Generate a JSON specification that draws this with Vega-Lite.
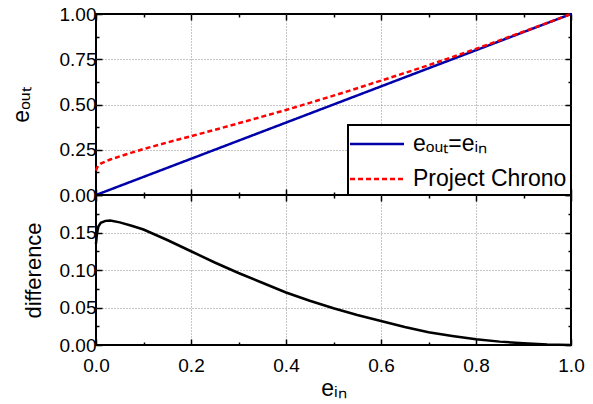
{
  "$schema": "https://vega.github.io/schema/vega-lite/v6.json",
  "background": "white",
  "padding": {"left": 9, "top": 4, "right": 22, "bottom": 5},
  "spacing": 0,
  "bounds": "flush",
  "resolve": {
    "scale": {"color": "independent", "strokeDash": "independent"},
    "legend": {"color": "independent", "strokeDash": "independent"}
  },
  "datasets": {
    "identity": [
      {"series": "eₒᵤₜ=eᵢₙ", "e_in": 0, "e_out": 0},
      {"series": "eₒᵤₜ=eᵢₙ", "e_in": 1, "e_out": 1}
    ],
    "chrono": [
      {"series": "Project Chrono", "e_in": 0, "e_out": 0.135, "diff": 0.135},
      {"series": "Project Chrono", "e_in": 0.002, "e_out": 0.15, "diff": 0.148},
      {"series": "Project Chrono", "e_in": 0.005, "e_out": 0.163, "diff": 0.158},
      {"series": "Project Chrono", "e_in": 0.01, "e_out": 0.173, "diff": 0.163},
      {"series": "Project Chrono", "e_in": 0.02, "e_out": 0.1855, "diff": 0.1655},
      {"series": "Project Chrono", "e_in": 0.03, "e_out": 0.196, "diff": 0.166},
      {"series": "Project Chrono", "e_in": 0.05, "e_out": 0.2135, "diff": 0.1635},
      {"series": "Project Chrono", "e_in": 0.075, "e_out": 0.234, "diff": 0.159},
      {"series": "Project Chrono", "e_in": 0.1, "e_out": 0.254, "diff": 0.154},
      {"series": "Project Chrono", "e_in": 0.15, "e_out": 0.29, "diff": 0.14},
      {"series": "Project Chrono", "e_in": 0.2, "e_out": 0.325, "diff": 0.125},
      {"series": "Project Chrono", "e_in": 0.25, "e_out": 0.36, "diff": 0.11},
      {"series": "Project Chrono", "e_in": 0.3, "e_out": 0.396, "diff": 0.096},
      {"series": "Project Chrono", "e_in": 0.35, "e_out": 0.433, "diff": 0.083},
      {"series": "Project Chrono", "e_in": 0.4, "e_out": 0.47, "diff": 0.07},
      {"series": "Project Chrono", "e_in": 0.45, "e_out": 0.509, "diff": 0.059},
      {"series": "Project Chrono", "e_in": 0.5, "e_out": 0.549, "diff": 0.049},
      {"series": "Project Chrono", "e_in": 0.55, "e_out": 0.59, "diff": 0.04},
      {"series": "Project Chrono", "e_in": 0.6, "e_out": 0.632, "diff": 0.032},
      {"series": "Project Chrono", "e_in": 0.65, "e_out": 0.674, "diff": 0.024},
      {"series": "Project Chrono", "e_in": 0.7, "e_out": 0.717, "diff": 0.017},
      {"series": "Project Chrono", "e_in": 0.75, "e_out": 0.762, "diff": 0.012},
      {"series": "Project Chrono", "e_in": 0.8, "e_out": 0.8076, "diff": 0.0076},
      {"series": "Project Chrono", "e_in": 0.85, "e_out": 0.8545, "diff": 0.0045},
      {"series": "Project Chrono", "e_in": 0.9, "e_out": 0.9023, "diff": 0.0023},
      {"series": "Project Chrono", "e_in": 0.95, "e_out": 0.9507, "diff": 0.0007},
      {"series": "Project Chrono", "e_in": 1, "e_out": 1, "diff": 0}
    ]
  },
  "vconcat": [
    {
      "width": 475,
      "height": 181,
      "layer": [
        {
          "data": {"name": "identity"},
          "mark": {"type": "line", "strokeWidth": 2.5},
          "encoding": {
            "x": {
              "field": "e_in", "type": "quantitative",
              "scale": {"domain": [0, 1], "nice": false, "zero": false},
              "axis": {
                "orient": "bottom", "title": null, "labels": false, "domain": false,
                "values": [0, 0.1, 0.2, 0.3, 0.4, 0.5, 0.6, 0.7, 0.8, 0.9, 1],
                "grid": true, "gridColor": "#8c8c8c", "gridDash": [1, 2], "gridWidth": 1,
                "gridOpacity": {"condition": {"test": "abs(datum.value*5-round(datum.value*5))<0.01 && datum.value>0.01 && datum.value<0.99", "value": 1}, "value": 0},
                "tickColor": "black", "tickWidth": 1.5,
                "tickSize": {"condition": {"test": "abs(datum.value*5-round(datum.value*5))<0.01", "value": -6}, "value": -3}
              }
            },
            "y": {
              "field": "e_out", "type": "quantitative",
              "scale": {"domain": [0, 1], "nice": false, "zero": false},
              "axis": {
                "orient": "left", "title": "eₒᵤₜ", "domain": false,
                "values": [0, 0.125, 0.25, 0.375, 0.5, 0.625, 0.75, 0.875, 1],
                "labelExpr": "abs(datum.value*4-round(datum.value*4))<0.01 ? format(datum.value,'.2f') : ''",
                "labelFontSize": 19, "labelPadding": 6, "labelFlush": false, "labelOverlap": false,
                "titleFontSize": 23, "titleBaseline": "alphabetic", "titleX": -68,
                "grid": true, "gridColor": "#8c8c8c", "gridDash": [1, 2], "gridWidth": 1,
                "gridOpacity": {"condition": {"test": "abs(datum.value*4-round(datum.value*4))<0.01 && datum.value>0.01 && datum.value<0.99", "value": 1}, "value": 0},
                "tickColor": "black", "tickWidth": 1.5,
                "tickSize": {"condition": {"test": "abs(datum.value*4-round(datum.value*4))<0.01", "value": -6}, "value": -3}
              }
            },
            "color": {
              "field": "series", "type": "nominal",
              "scale": {"domain": ["eₒᵤₜ=eᵢₙ", "Project Chrono"], "range": ["#0000aa", "#ff0000"]},
              "legend": {
                "title": null, "orient": "bottom-right", "offset": 0, "padding": 4,
                "fillColor": "white", "strokeColor": "black",
                "labelFontSize": 23, "labelColor": "black", "labelLimit": 400,
                "symbolType": "M-2,0H2", "symbolSize": 729, "symbolStrokeWidth": 2.5,
                "symbolOffset": 10, "labelOffset": 21, "rowPadding": 8
              }
            },
            "strokeDash": {
              "field": "series", "type": "nominal",
              "scale": {"domain": ["eₒᵤₜ=eᵢₙ", "Project Chrono"], "range": [[1, 0], [5, 3]]},
              "legend": {
                "title": null, "orient": "bottom-right", "offset": 0, "padding": 4,
                "fillColor": "white", "strokeColor": "black",
                "labelFontSize": 23, "labelColor": "black", "labelLimit": 400,
                "symbolType": "M-2,0H2", "symbolSize": 729, "symbolStrokeWidth": 2.5,
                "symbolOffset": 10, "labelOffset": 21, "rowPadding": 8
              }
            }
          }
        },
        {
          "data": {"name": "chrono"},
          "mark": {"type": "line", "strokeWidth": 2.5},
          "encoding": {
            "x": {
              "field": "e_in", "type": "quantitative",
              "scale": {"domain": [0, 1], "nice": false, "zero": false},
              "axis": {
                "orient": "top", "title": null, "labels": false, "domain": false, "grid": false,
                "values": [0, 0.1, 0.2, 0.3, 0.4, 0.5, 0.6, 0.7, 0.8, 0.9, 1],
                "tickColor": "black", "tickWidth": 1.5,
                "tickSize": {"condition": {"test": "abs(datum.value*5-round(datum.value*5))<0.01", "value": -6}, "value": -3}
              }
            },
            "y": {
              "field": "e_out", "type": "quantitative",
              "scale": {"domain": [0, 1], "nice": false, "zero": false},
              "axis": {
                "orient": "right", "title": null, "labels": false, "domain": false, "grid": false,
                "values": [0, 0.125, 0.25, 0.375, 0.5, 0.625, 0.75, 0.875, 1],
                "tickColor": "black", "tickWidth": 1.5,
                "tickSize": {"condition": {"test": "abs(datum.value*4-round(datum.value*4))<0.01", "value": -6}, "value": -3}
              }
            },
            "color": {
              "field": "series", "type": "nominal",
              "scale": {"domain": ["eₒᵤₜ=eᵢₙ", "Project Chrono"], "range": ["#0000aa", "#ff0000"]},
              "legend": {
                "title": null, "orient": "bottom-right", "offset": 0, "padding": 4,
                "fillColor": "white", "strokeColor": "black",
                "labelFontSize": 23, "labelColor": "black", "labelLimit": 400,
                "symbolType": "M-2,0H2", "symbolSize": 729, "symbolStrokeWidth": 2.5,
                "symbolOffset": 10, "labelOffset": 21, "rowPadding": 8
              }
            },
            "strokeDash": {
              "field": "series", "type": "nominal",
              "scale": {"domain": ["eₒᵤₜ=eᵢₙ", "Project Chrono"], "range": [[1, 0], [5, 3]]},
              "legend": {
                "title": null, "orient": "bottom-right", "offset": 0, "padding": 4,
                "fillColor": "white", "strokeColor": "black",
                "labelFontSize": 23, "labelColor": "black", "labelLimit": 400,
                "symbolType": "M-2,0H2", "symbolSize": 729, "symbolStrokeWidth": 2.5,
                "symbolOffset": 10, "labelOffset": 21, "rowPadding": 8
              }
            }
          }
        }
      ],
      "resolve": {"axis": {"x": "independent", "y": "independent"}}
    },
    {
      "width": 475,
      "height": 150,
      "data": {"name": "chrono"},
      "layer": [
        {
          "mark": {"type": "line", "strokeWidth": 2.5, "color": "black"},
          "encoding": {
            "x": {
              "field": "e_in", "type": "quantitative",
              "scale": {"domain": [0, 1], "nice": false, "zero": false},
              "axis": {
                "orient": "bottom", "title": "eᵢₙ", "domain": false,
                "values": [0, 0.1, 0.2, 0.3, 0.4, 0.5, 0.6, 0.7, 0.8, 0.9, 1],
                "labelExpr": "abs(datum.value*5-round(datum.value*5))<0.01 ? format(datum.value,'.1f') : ''",
                "labelFontSize": 19, "labelPadding": 17, "labelFlush": false, "labelOverlap": false,
                "titleFontSize": 23, "titleBaseline": "alphabetic", "titleY": 50,
                "grid": true, "gridColor": "#8c8c8c", "gridDash": [1, 2], "gridWidth": 1,
                "gridOpacity": {"condition": {"test": "abs(datum.value*5-round(datum.value*5))<0.01 && datum.value>0.01 && datum.value<0.99", "value": 1}, "value": 0},
                "tickColor": "black", "tickWidth": 1.5,
                "tickSize": {"condition": {"test": "abs(datum.value*5-round(datum.value*5))<0.01", "value": -6}, "value": -3}
              }
            },
            "y": {
              "field": "diff", "type": "quantitative",
              "scale": {"domain": [0, 0.2], "nice": false, "zero": false},
              "axis": {
                "orient": "left", "title": "difference", "domain": false,
                "values": [0, 0.025, 0.05, 0.075, 0.1, 0.125, 0.15, 0.175, 0.2],
                "labelExpr": "(abs(datum.value*20-round(datum.value*20))<0.01 && datum.value<0.19) ? format(datum.value,'.2f') : ''",
                "labelFontSize": 19, "labelPadding": 6, "labelFlush": false, "labelOverlap": false,
                "titleFontSize": 22, "titleBaseline": "alphabetic", "titleX": -56,
                "grid": true, "gridColor": "#8c8c8c", "gridDash": [1, 2], "gridWidth": 1,
                "gridOpacity": {"condition": {"test": "abs(datum.value*20-round(datum.value*20))<0.01 && datum.value>0.01 && datum.value<0.19", "value": 1}, "value": 0},
                "tickColor": "black", "tickWidth": 1.5,
                "tickSize": {"condition": {"test": "abs(datum.value*20-round(datum.value*20))<0.01", "value": -6}, "value": -3}
              }
            }
          }
        },
        {
          "mark": {"type": "line", "strokeWidth": 2.5, "color": "black", "opacity": 0},
          "encoding": {
            "x": {
              "field": "e_in", "type": "quantitative",
              "scale": {"domain": [0, 1], "nice": false, "zero": false},
              "axis": {
                "orient": "top", "title": null, "labels": false, "domain": false, "grid": false,
                "values": [0, 0.1, 0.2, 0.3, 0.4, 0.5, 0.6, 0.7, 0.8, 0.9, 1],
                "tickColor": "black", "tickWidth": 1.5,
                "tickSize": {"condition": {"test": "abs(datum.value*5-round(datum.value*5))<0.01", "value": -6}, "value": -3}
              }
            },
            "y": {
              "field": "diff", "type": "quantitative",
              "scale": {"domain": [0, 0.2], "nice": false, "zero": false},
              "axis": {
                "orient": "right", "title": null, "labels": false, "domain": false, "grid": false,
                "values": [0, 0.025, 0.05, 0.075, 0.1, 0.125, 0.15, 0.175, 0.2],
                "tickColor": "black", "tickWidth": 1.5,
                "tickSize": {"condition": {"test": "abs(datum.value*20-round(datum.value*20))<0.01", "value": -6}, "value": -3}
              }
            }
          }
        }
      ],
      "resolve": {"axis": {"x": "independent", "y": "independent"}}
    }
  ],
  "config": {
    "font": "Liberation Sans",
    "view": {"stroke": "black", "strokeWidth": 2},
    "axis": {"labelFont": "Liberation Sans", "titleFont": "Liberation Sans", "labelColor": "black", "titleColor": "black", "titleFontWeight": "normal"},
    "legend": {"labelFont": "Liberation Sans", "strokeWidth": 2}
  }
}
